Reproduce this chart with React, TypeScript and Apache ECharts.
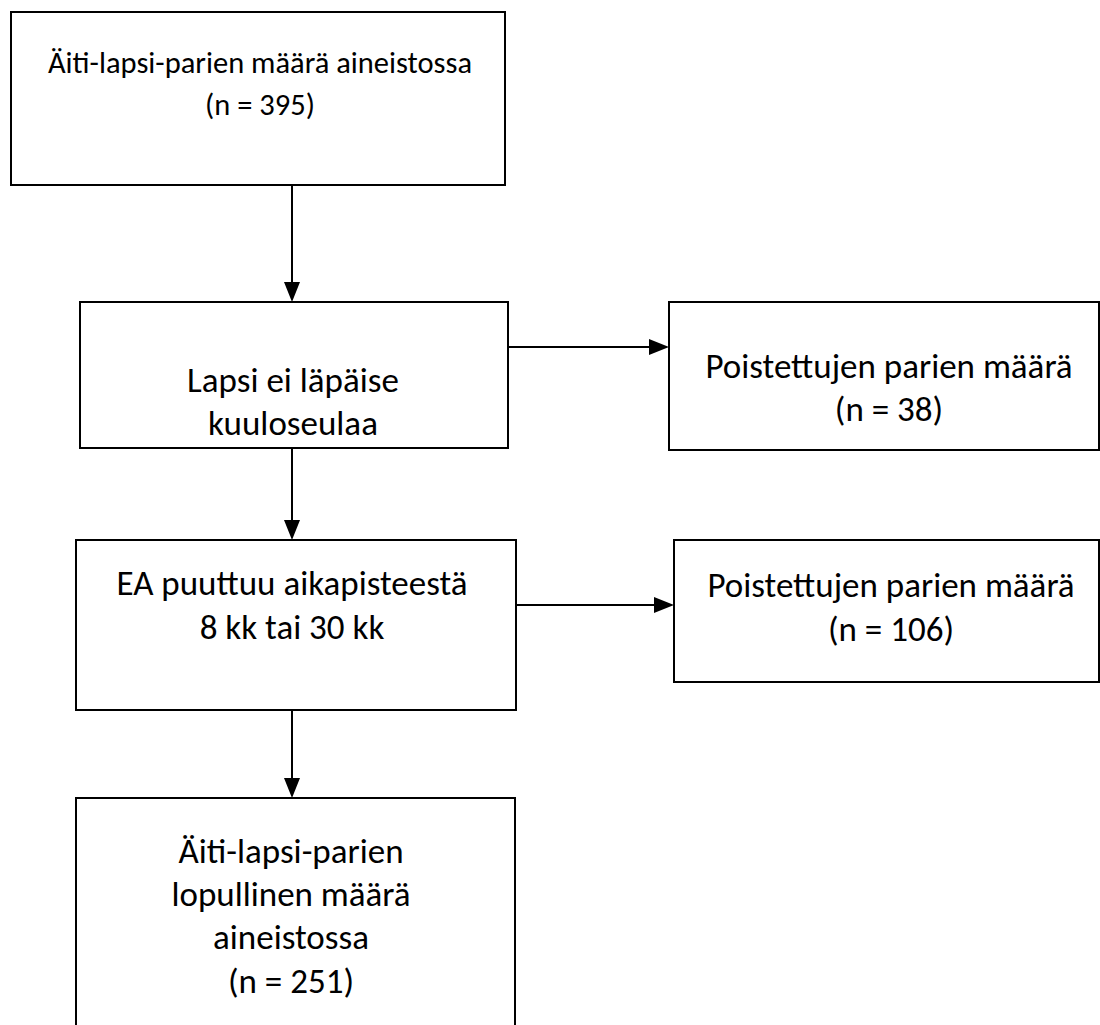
import React, { useEffect, useRef } from "react";
import * as echarts from "echarts";

const boxLabels: string[][] = [
  ["Äiti-lapsi-parien määrä aineistossa", "(n = 395)"],
  ["Lapsi ei läpäise", "kuuloseulaa"],
  ["Poistettujen parien määrä", "(n = 38)"],
  ["EA puuttuu aikapisteestä", "8 kk tai 30 kk"],
  ["Poistettujen parien määrä", "(n = 106)"],
  ["Äiti-lapsi-parien", "lopullinen määrä", "aineistossa", "(n = 251)"],
];

// layout: [x, y, w, h, textCenterX, firstLineY, fontSize, lineHeight]
const boxLayout: number[][] = [
  [11, 12, 494, 173, 260, 62, 30.5, 42],
  [80, 302, 428, 146, 293, 380, 35, 42.5],
  [669, 302, 430, 148, 889, 366, 35, 42.5],
  [76, 540, 440, 170, 292, 583, 35, 44],
  [674, 540, 425, 142, 891, 585, 35, 43.5],
  [76, 798, 439, 260, 291, 851, 35, 43.2],
];
// arrows: [x1, y1, x2, y2]
const arrowLayout: number[][] = [
  [292, 185, 292, 302],
  [508, 347, 669, 347],
  [292, 448, 292, 540],
  [516, 605, 674, 605],
  [292, 710, 292, 798],
];

const FONT = "Carlito, Lato, 'Noto Sans', sans-serif";

export default function App() {
  const ref = useRef<HTMLDivElement>(null);
  useEffect(() => {
    document.body.style.margin = "0";
    const chart = echarts.init(ref.current!, null, { renderer: "svg" });
    const elements: any[] = [];
    boxLayout.forEach((g, i) => {
      const [x, y, w, h, cx, ty, fs, lh] = g;
      elements.push({
        type: "rect",
        shape: { x, y, width: w, height: h },
        style: { fill: "#fff", stroke: "#000", lineWidth: 2 },
      });
      boxLabels[i].forEach((t, j) => {
        elements.push({
          type: "text",
          x: cx,
          y: ty + j * lh,
          style: {
            text: t,
            fill: "#000",
            fontSize: fs,
            fontFamily: FONT,
            align: "center",
            verticalAlign: "middle",
          },
        });
      });
    });
    arrowLayout.forEach(([x1, y1, x2, y2]) => {
      const horiz = y1 === y2;
      const head = 20;
      const half = 8;
      const ex = horiz ? x2 - head : x2;
      const ey = horiz ? y2 : y2 - head;
      elements.push({
        type: "line",
        shape: { x1, y1, x2: ex, y2: ey },
        style: { stroke: "#000", lineWidth: 2 },
      });
      const pts = horiz
        ? [[x2, y2], [x2 - head, y2 - half], [x2 - head, y2 + half]]
        : [[x2, y2], [x2 - half, y2 - head], [x2 + half, y2 - head]];
      elements.push({
        type: "polygon",
        shape: { points: pts },
        style: { fill: "#000" },
      });
    });
    chart.setOption({
      animation: false,
      backgroundColor: "#fff",
      graphic: { elements },
    });
    return () => chart.dispose();
  }, []);
  return <div ref={ref} style={{ width: 1100, height: 1025 }} />;
}
